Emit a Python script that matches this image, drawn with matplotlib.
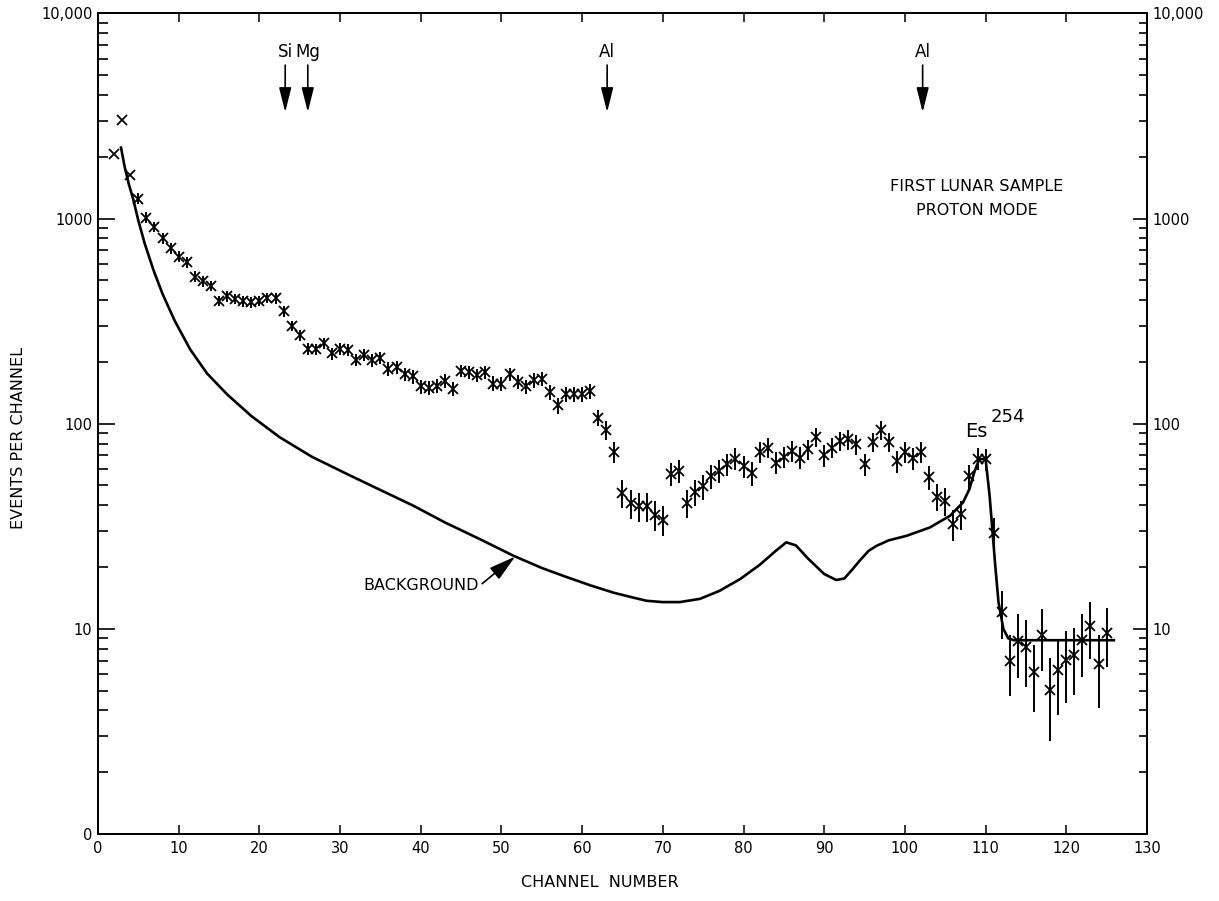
import numpy as np
import matplotlib
matplotlib.use("Agg")
import matplotlib.pyplot as plt
from matplotlib.ticker import FixedLocator, FixedFormatter, NullFormatter

## Proton mode spectrum of the first lunar sample

channels = np.arange(2, 126)

counts = [2056, 3020, 1625, 1250, 1011, 912, 801, 716, 653, 614,
          521, 496, 469, 397, 419, 407, 395, 392, 397, 411,
          408, 353, 300, 270, 232, 231, 247, 220, 232, 229,
          205, 216, 204, 210, 185, 188, 174, 170, 152, 150,
          153, 162, 148, 181, 179, 172, 178, 157, 156, 174,
          160, 152, 163, 166, 143, 123, 139, 139, 139, 144,
          107, 93, 73, 46, 41, 39.5, 39.5, 36, 34, 57,
          59, 41, 46.5, 49.5, 55.7, 59, 63.5, 67.6, 62, 57.4,
          73, 76.4, 64.6, 69, 73.6, 68.4, 75, 86, 70, 76.4,
          82.4, 84, 79.4, 63.5, 81.5, 93, 81.5, 65.8, 73, 68,
          73, 55, 44, 42, 32.4, 36.2, 55.5, 67.6, 67, 29.4,
          12.1, 7.0, 8.75, 8.13, 6.13, 9.33, 5.04, 6.31, 7.06, 7.45,
          8.85, 10.3, 6.73, 9.59]

errors = [0, 0, 0, 75, 60, 55, 48, 43, 39, 37,
          31, 30, 28, 24, 25, 24, 24, 24, 24, 25,
          24, 21, 18, 16, 15, 15, 16, 15, 15, 15,
          14, 15, 14, 14, 14, 14, 13, 13, 12, 12,
          12, 13, 12, 13, 13, 13, 13, 13, 12, 13,
          13, 12, 13, 13, 12, 11, 12, 12, 12, 12,
          10, 10, 8.5, 7, 6.5, 6.3, 6.3, 6, 5.8, 7.5,
          7.7, 6.4, 6.8, 7, 7.5, 7.7, 8, 8.2, 7.9, 7.6,
          8.5, 8.7, 8, 8.3, 8.6, 8.3, 8.7, 9.3, 8.4, 8.7,
          9.1, 9.2, 8.9, 8, 9, 9.6, 9, 8.1, 8.5, 8.2,
          8.5, 7.4, 6.6, 6.5, 5.7, 6, 7.4, 8.2, 8.2, 5.4,
          3.2, 2.3, 3, 2.9, 2.2, 3.1, 2.2, 2.5, 2.7, 2.7,
          3, 3.2, 2.6, 3.1]

bg_channel = [2.85, 3.3, 3.8, 4.37, 5.0, 5.8, 6.9, 8.0, 9.5, 11.4,
              13.5, 16.0, 19.0, 22.5, 26.5, 30.8, 35.0, 39.1, 43.0, 47.3,
              51.5, 55.0, 57.7, 61.0, 63.9, 66.0, 68.0, 70.0, 72.1, 74.6,
              77.0, 79.6, 82.0, 84.0, 85.3, 86.5, 88.0, 90.0, 91.5, 92.5,
              93.5, 94.4, 95.5, 96.5, 98.0, 100.2, 103.1, 105.6, 107.2, 108.0,
              108.6, 109.2, 110.0, 110.5, 111.2, 111.6, 112.2, 112.8, 113.5, 125.9]
bg_counts = [2218, 1790, 1480, 1240, 977, 753, 557, 429, 318, 231,
             176, 139, 109, 86, 69, 57, 47.5, 39.8, 33, 27.4,
             22.7, 19.8, 18.1, 16.3, 15.0, 14.3, 13.7, 13.5, 13.5, 14.0,
             15.3, 17.5, 20.5, 24.0, 26.4, 25.5, 22.0, 18.5, 17.3, 17.6,
             19.5, 21.5, 24.0, 25.4, 27.0, 28.4, 31.2, 35.6, 41.3, 48.0,
             58.0, 67.0, 67.5, 44.5, 20.3, 13.5, 10.0, 9.0, 8.8, 8.8]

peak_names = ["Si", "Mg", "Al", "Al"]
peak_channel = [23.2, 26.0, 63.1, 102.2]

y_ticks = [1, 10, 100, 1000, 10000]
y_left_labels = ["0", "10", "100", "1000", "10,000"]
y_right_labels = ["", "10", "100", "1000", "10,000"]
x_ticks = list(range(0, 131, 10))

# -----------------------------------------------------------------------------

plt.rcParams["font.family"] = "DejaVu Sans"

fig = plt.figure(figsize=(12.19, 9.01), dpi=100)
ax = fig.add_axes([0.0804, 0.0744, 0.8605, 0.9107])

# background curve
ax.plot(bg_channel, bg_counts, color="black", lw=1.9, zorder=2)

# data points with error bars
ax.errorbar(channels, counts, yerr=errors, fmt="x", color="black",
            ms=7, mew=1.3, elinewidth=1.4, capsize=0, zorder=3)

ax.set_yscale("log")
ax.set_ylim(1, 10000)
ax.set_xlim(0, 130)

ax.yaxis.set_major_locator(FixedLocator(y_ticks))
ax.yaxis.set_major_formatter(FixedFormatter(y_left_labels))
minor = [m * 10**d for d in range(0, 4) for m in range(2, 10)]
ax.yaxis.set_minor_locator(FixedLocator(minor))
ax.yaxis.set_minor_formatter(NullFormatter())

ax.xaxis.set_major_locator(FixedLocator(x_ticks))
ax.set_xticklabels([str(t) for t in x_ticks])

ax.tick_params(axis="y", which="major", direction="in", length=12, width=1.2,
               labelsize=10.5, pad=4)
ax.tick_params(axis="y", which="minor", direction="in", length=7.5, width=1.2)
ax.tick_params(axis="x", which="major", direction="in", length=6.5, width=1.1,
               labelsize=10.5, pad=5, top=True)

# right axis, same scale
ax2 = ax.twinx()
ax2.set_yscale("log")
ax2.set_ylim(ax.get_ylim())
ax2.yaxis.set_major_locator(FixedLocator(y_ticks))
ax2.yaxis.set_major_formatter(FixedFormatter(y_right_labels))
ax2.yaxis.set_minor_locator(FixedLocator(minor))
ax2.yaxis.set_minor_formatter(NullFormatter())
ax2.tick_params(axis="y", which="major", direction="in", length=10, width=1.2,
                labelsize=10.5, pad=4)
ax2.tick_params(axis="y", which="minor", direction="in", length=6, width=1.2)

for a in (ax, ax2):
    for s in a.spines.values():
        s.set_linewidth(1.3)

# element markers along the top
for name, ch in zip(peak_names, peak_channel):
    ax.annotate("", xy=(ch, 3300), xytext=(ch, 5600),
                arrowprops=dict(arrowstyle="-|>,head_length=1.0,head_width=0.25",
                                color="black", lw=1.2, mutation_scale=15,
                                shrinkA=0, shrinkB=0))
    ax.text(ch, 6500, name, ha="center", va="center", fontsize=12)

ax.text(108.9, 1440, "FIRST LUNAR SAMPLE", ha="center", va="center", fontsize=11.5)
ax.text(108.9, 1100, "PROTON MODE", ha="center", va="center", fontsize=11.5)

ax.text(108.9, 92, "Es", ha="center", va="center", fontsize=14)
ax.text(112.8, 108, "254", ha="center", va="center", fontsize=13)

ax.annotate("", xy=(51.7, 22.5), xytext=(47.6, 16.6),
            arrowprops=dict(arrowstyle="-|>,head_length=1.1,head_width=0.3",
                            color="black", lw=1.2, mutation_scale=15,
                            shrinkA=0, shrinkB=0))
ax.text(47.2, 16.2, "BACKGROUND", ha="right", va="center", fontsize=11.5)

fig.text(0.015, 0.514, "EVENTS PER CHANNEL", rotation=90, ha="center",
         va="center", fontsize=11.5)
fig.text(0.492, 0.02, "CHANNEL  NUMBER", ha="center", va="center", fontsize=11.5)

fig.savefig("out.png", dpi=100)
